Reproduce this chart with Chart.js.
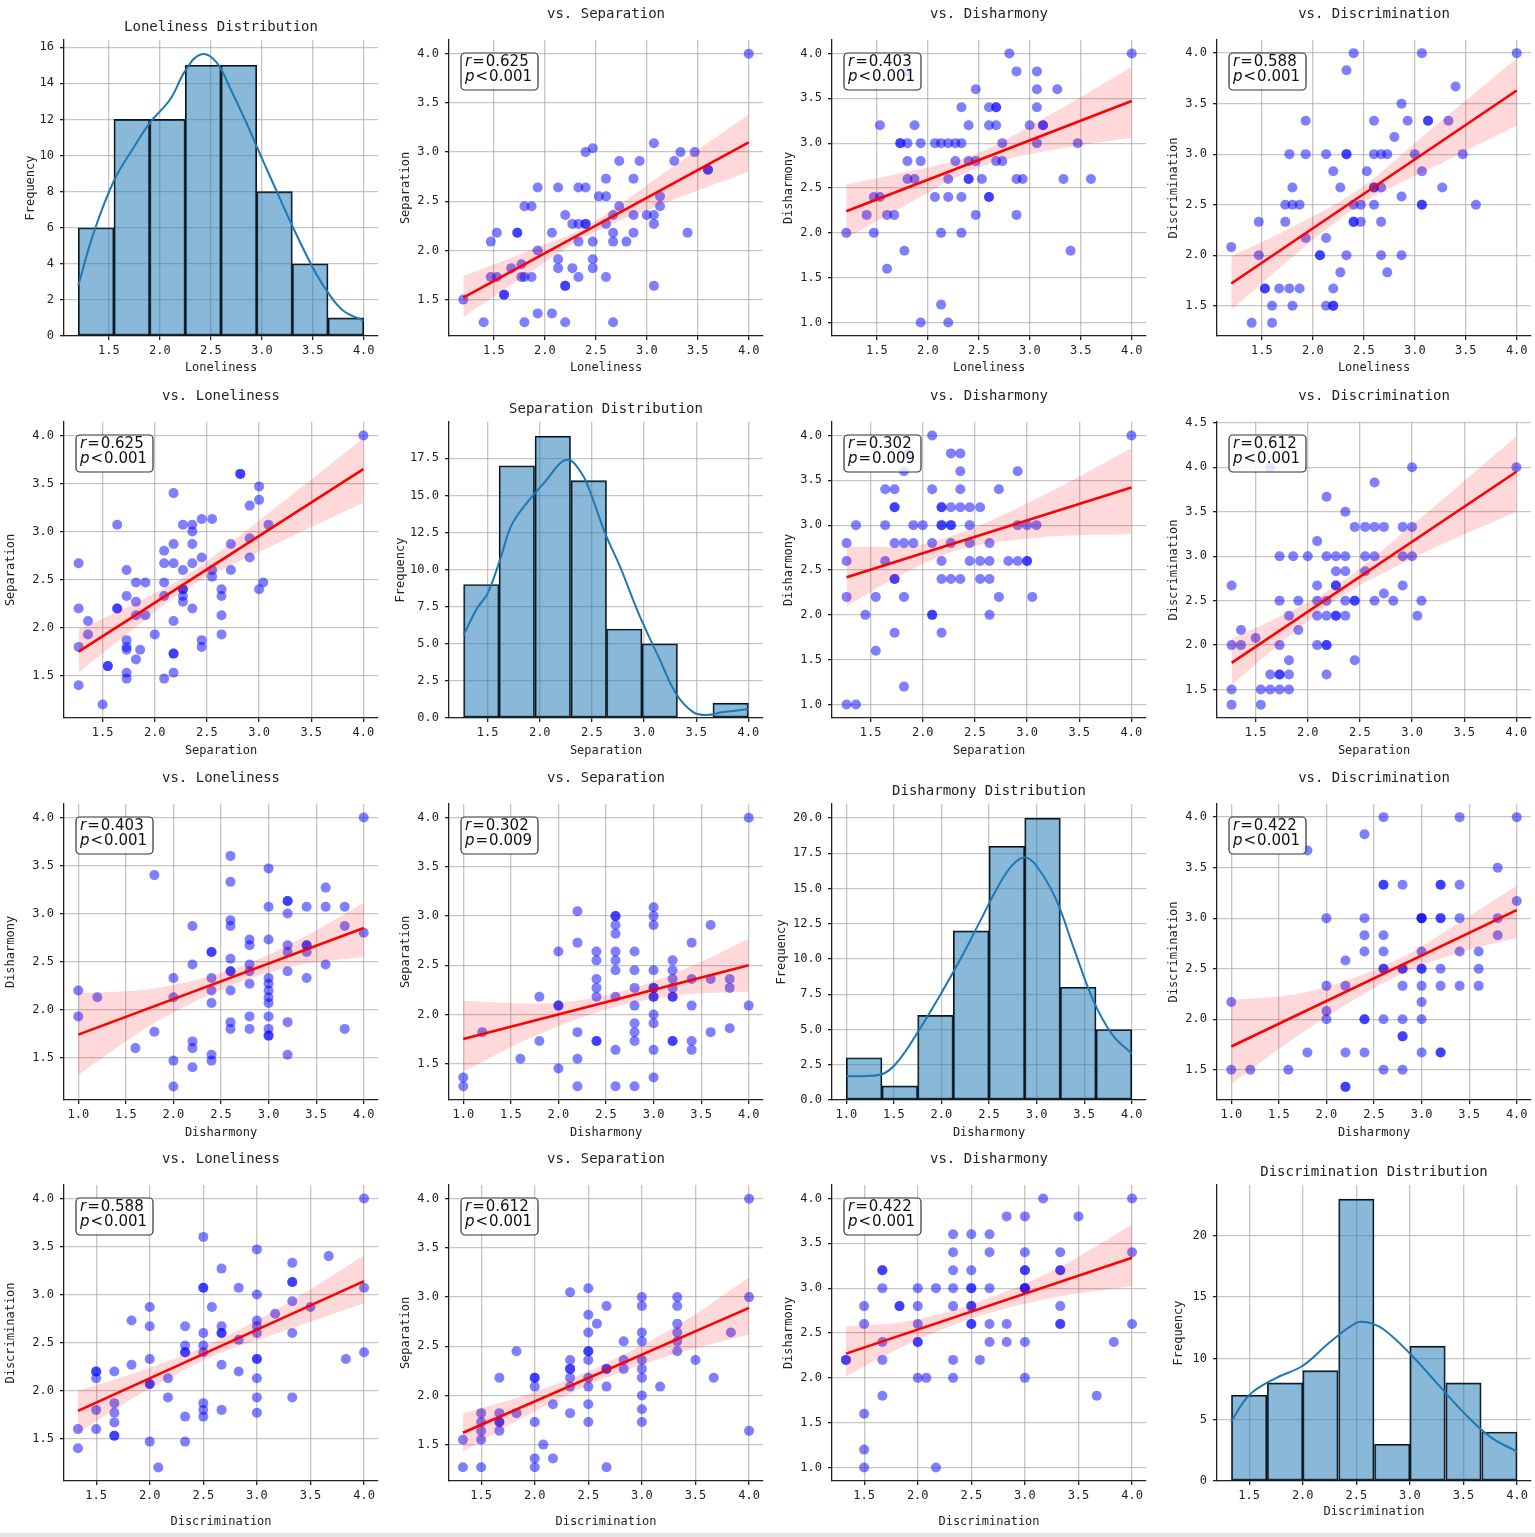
<!DOCTYPE html>
<html lang="en">
<head>
<meta charset="UTF-8">
<title>Pair plot</title>
<script src="https://cdn.jsdelivr.net/npm/chart.js"></script>
<style>
  body { margin: 0; background: #fff; }
  #grid { position: relative; width: 1535px; height: 1537px; overflow: hidden; }
  #grid canvas { position: absolute; }
  #strip { position: absolute; left: 0; top: 1533px; width: 1535px; height: 4px; background: #e6e6e6; }
</style>
</head>
<body>
<div id="grid"><div id="strip"></div></div>
<script>
// ---- histogram bins (edges) and counts ----
var lonEdges = [1.2, 1.55, 1.9, 2.25, 2.6, 2.95, 3.3, 3.65, 4.0];
var lonCounts = [6, 12, 12, 15, 15, 8, 4, 1];
var sepEdges = [1.27, 1.61, 1.95, 2.30, 2.64, 2.98, 3.32, 3.66, 4.0];
var sepCounts = [9, 17, 19, 16, 6, 5, 0, 1];
var disEdges = [1.0, 1.375, 1.75, 2.125, 2.5, 2.875, 3.25, 3.625, 4.0];
var disCounts = [3, 1, 6, 12, 18, 20, 8, 5];
var discEdges = [1.33, 1.67, 2.0, 2.33, 2.67, 3.0, 3.33, 3.67, 4.0];
var discCounts = [7, 8, 9, 23, 3, 11, 8, 4];

// ---- kde curves ----
var lonKde = [[1.2,2.8],[1.35,5.7],[1.55,8.6],[1.75,10.5],[1.9,11.8],[2.1,13.1],[2.25,14.7],[2.4,15.6],[2.55,15.2],[2.7,13.6],[2.85,11.8],[2.95,10.5],[3.1,8.6],[3.3,6.1],[3.5,3.8],[3.65,2.4],[3.8,1.4],[4.0,0.85]];
var sepKde = [[1.27,5.6],[1.4,7.4],[1.5,8.4],[1.63,10.9],[1.73,13.0],[1.9,14.7],[2.06,16.0],[2.2,17.2],[2.28,17.4],[2.35,17.0],[2.44,16.0],[2.63,12.4],[2.77,10.2],[2.95,7.0],[3.14,4.1],[3.31,1.6],[3.47,0.4],[3.6,0.2],[3.76,0.4],[4.0,0.6]];
var disKde = [[1.0,1.7],[1.2,1.7],[1.4,1.9],[1.55,2.8],[1.75,4.8],[2.0,7.6],[2.2,10.0],[2.4,12.6],[2.6,15.2],[2.75,16.7],[2.88,17.2],[3.0,16.6],[3.2,14.3],[3.4,10.6],[3.6,7.0],[3.8,4.6],[4.0,3.3]];
var discKde = [[1.33,4.8],[1.5,7.0],[1.75,8.4],[2.0,9.4],[2.25,11.3],[2.5,12.9],[2.6,12.95],[2.75,12.4],[3.0,10.4],[3.25,8.0],[3.5,5.6],[3.75,3.6],[4.0,2.4]];

// ---- scatter pairs (first value = row variable of the upper panel) ----
var pairsLonSep = [[4.0,4.0],[1.2,1.5],[1.4,1.27],[1.47,2.09],[1.53,2.18],[1.47,1.73],[1.53,1.73],[1.6,1.55],[1.6,1.55],[1.67,1.82],[1.73,2.18],[1.73,2.18],[1.77,1.86],[1.77,1.73],[1.8,1.73],[1.87,1.73],[1.8,2.45],[1.87,2.45],[1.8,1.27],[1.93,2.64],[1.93,2.0],[1.93,1.36],[2.07,2.18],[2.07,1.36],[2.13,2.64],[2.13,1.91],[2.13,1.82],[2.2,2.36],[2.2,1.64],[2.2,1.64],[2.2,1.27],[2.27,1.82],[2.27,2.27],[2.33,2.64],[2.33,2.27],[2.33,2.09],[2.33,1.73],[2.4,2.64],[2.4,3.0],[2.4,2.27],[2.4,2.27],[2.47,3.04],[2.47,2.09],[2.47,1.91],[2.47,1.82],[2.53,2.55],[2.6,2.55],[2.6,2.73],[2.6,2.27],[2.6,1.73],[2.67,2.36],[2.67,2.18],[2.67,2.09],[2.67,1.27],[2.73,2.91],[2.73,2.45],[2.8,2.09],[2.87,2.73],[2.87,2.36],[2.87,2.18],[2.93,2.91],[3.0,2.36],[3.07,3.09],[3.07,2.36],[3.07,2.27],[3.07,1.64],[3.13,2.55],[3.13,2.45],[3.27,2.91],[3.33,3.0],[3.4,2.18],[3.47,3.0],[3.6,2.82],[3.6,2.82]];
var pairsLonDis = [[4.0,4.0],[1.2,2.0],[1.4,2.2],[1.47,2.4],[1.53,2.4],[1.47,2.0],[1.53,3.2],[1.6,2.2],[1.67,2.2],[1.6,1.6],[1.73,3.0],[1.73,3.0],[1.8,3.0],[1.77,1.8],[1.8,2.8],[1.8,2.6],[1.87,2.6],[1.87,3.2],[1.8,3.8],[1.93,3.0],[1.93,2.8],[1.93,1.0],[2.07,3.0],[2.07,2.4],[2.13,3.0],[2.13,2.0],[2.13,1.2],[2.2,3.0],[2.2,2.6],[2.2,2.4],[2.2,1.0],[2.27,3.0],[2.27,2.8],[2.33,3.0],[2.33,3.4],[2.33,2.4],[2.33,2.0],[2.4,3.2],[2.4,2.8],[2.4,2.6],[2.4,2.6],[2.47,3.6],[2.47,2.8],[2.47,2.2],[2.53,2.6],[2.6,3.4],[2.6,3.2],[2.6,2.4],[2.6,2.4],[2.67,3.4],[2.67,3.4],[2.67,3.2],[2.67,2.8],[2.73,3.0],[2.73,2.8],[2.8,4.0],[2.87,3.8],[2.87,2.6],[2.87,2.2],[2.93,2.6],[3.0,3.2],[3.07,3.8],[3.07,3.6],[3.07,3.4],[3.07,3.0],[3.13,3.2],[3.13,3.2],[3.27,3.6],[3.33,2.6],[3.4,1.8],[3.47,3.0],[3.6,2.6]];
var pairsLonDisc = [[4.0,4.0],[1.2,2.08],[1.4,1.33],[1.47,2.33],[1.47,2.0],[1.53,1.67],[1.53,1.67],[1.6,1.5],[1.6,1.33],[1.67,1.67],[1.73,2.5],[1.73,2.33],[1.77,3.0],[1.8,2.67],[1.8,2.5],[1.77,1.67],[1.8,1.5],[1.87,2.5],[1.87,1.67],[1.93,3.33],[1.93,3.0],[1.93,2.17],[2.07,2.0],[2.07,2.0],[2.13,3.0],[2.13,2.17],[2.13,1.5],[2.2,2.83],[2.2,1.67],[2.2,1.5],[2.2,1.5],[2.27,2.67],[2.27,1.83],[2.33,3.83],[2.33,3.0],[2.33,3.0],[2.33,2.0],[2.4,4.0],[2.4,2.5],[2.4,2.33],[2.4,2.33],[2.47,2.5],[2.47,2.33],[2.53,2.83],[2.6,3.33],[2.6,3.0],[2.6,2.67],[2.6,2.67],[2.6,2.5],[2.67,3.0],[2.67,2.67],[2.67,2.33],[2.67,2.0],[2.73,3.0],[2.73,1.83],[2.8,3.17],[2.87,3.5],[2.87,2.58],[2.87,2.0],[2.93,3.33],[3.0,3.0],[3.07,4.0],[3.07,2.83],[3.07,2.5],[3.07,2.5],[3.13,3.33],[3.13,3.33],[3.27,2.67],[3.33,3.33],[3.4,3.67],[3.47,3.0],[3.6,2.5]];
var pairsSepDis = [[4.0,4.0],[1.27,2.8],[1.27,2.6],[1.27,2.2],[1.27,1.0],[1.36,3.0],[1.36,1.0],[1.45,2.0],[1.55,2.2],[1.55,1.6],[1.64,3.4],[1.64,3.0],[1.64,2.6],[1.73,3.4],[1.73,3.2],[1.73,3.2],[1.73,2.8],[1.73,2.4],[1.73,2.4],[1.73,1.8],[1.82,3.6],[1.82,2.8],[1.82,2.2],[1.82,1.2],[1.86,3.8],[1.91,3.0],[1.91,2.8],[2.0,3.0],[2.09,4.0],[2.09,3.4],[2.09,2.8],[2.09,2.0],[2.09,2.0],[2.18,3.2],[2.18,3.2],[2.18,3.0],[2.18,3.0],[2.18,2.6],[2.18,2.4],[2.18,1.8],[2.27,3.8],[2.27,3.2],[2.27,3.0],[2.27,3.0],[2.27,2.8],[2.27,2.4],[2.36,3.8],[2.36,3.6],[2.36,3.4],[2.36,3.2],[2.36,2.4],[2.45,3.2],[2.45,3.0],[2.45,2.8],[2.45,2.6],[2.55,3.2],[2.55,2.6],[2.55,2.4],[2.64,2.8],[2.64,2.6],[2.64,2.4],[2.64,2.0],[2.73,3.4],[2.73,2.2],[2.82,2.6],[2.91,3.6],[2.91,3.0],[2.91,2.6],[3.0,3.0],[3.0,2.6],[3.0,2.6],[3.05,2.2],[3.09,3.0]];
var pairsSepDisc = [[4.0,4.0],[1.27,2.67],[1.27,2.0],[1.27,1.5],[1.27,1.33],[1.36,2.17],[1.36,2.0],[1.5,2.08],[1.55,1.5],[1.55,1.33],[1.64,4.0],[1.64,1.67],[1.64,1.5],[1.73,3.0],[1.73,2.5],[1.73,2.0],[1.73,1.67],[1.73,1.67],[1.73,1.5],[1.82,2.33],[1.82,1.83],[1.82,1.67],[1.82,1.5],[1.86,3.0],[1.91,2.5],[1.91,2.17],[2.0,3.0],[2.09,3.17],[2.09,2.67],[2.09,2.5],[2.09,2.33],[2.09,2.0],[2.18,3.67],[2.18,3.0],[2.18,2.5],[2.18,2.33],[2.18,2.0],[2.18,2.0],[2.18,1.67],[2.27,3.0],[2.27,2.83],[2.27,2.67],[2.27,2.67],[2.27,2.33],[2.27,2.33],[2.36,3.5],[2.36,3.0],[2.36,2.83],[2.36,2.5],[2.36,2.33],[2.45,3.33],[2.45,2.5],[2.45,2.5],[2.45,1.83],[2.55,3.33],[2.55,3.0],[2.55,2.83],[2.64,3.83],[2.64,3.33],[2.64,3.0],[2.64,2.5],[2.73,3.33],[2.73,2.58],[2.82,2.5],[2.91,3.33],[2.91,3.0],[2.91,2.67],[3.0,4.0],[3.0,3.33],[3.0,3.0],[3.05,2.33],[3.09,2.5]];
var pairsDisDisc = [[1.0,2.17],[1.0,1.5],[1.2,1.5],[1.6,1.5],[1.8,1.67],[1.8,3.67],[2.0,3.0],[2.0,2.33],[2.0,2.08],[2.0,2.0],[2.2,2.58],[2.2,2.33],[2.2,1.67],[2.2,1.33],[2.2,1.33],[2.4,3.83],[2.4,3.0],[2.4,2.83],[2.4,2.67],[2.4,2.0],[2.4,2.0],[2.4,1.67],[2.6,4.0],[2.6,3.33],[2.6,3.33],[2.6,2.83],[2.6,2.67],[2.6,2.5],[2.6,2.5],[2.6,2.0],[2.6,1.5],[2.8,3.33],[2.8,2.5],[2.8,2.5],[2.8,2.33],[2.8,2.0],[2.8,1.83],[2.8,1.83],[2.8,1.5],[3.0,3.0],[3.0,3.0],[3.0,3.0],[3.0,2.67],[3.0,2.5],[3.0,2.5],[3.0,2.33],[3.0,2.17],[3.0,2.0],[3.0,1.67],[3.2,3.33],[3.2,3.33],[3.2,3.0],[3.2,3.0],[3.2,2.5],[3.2,2.33],[3.2,1.67],[3.2,1.67],[3.4,4.0],[3.4,3.33],[3.4,3.0],[3.4,2.67],[3.4,2.33],[3.6,2.67],[3.6,2.5],[3.6,2.33],[3.8,3.5],[3.8,3.0],[3.8,2.83],[4.0,4.0],[4.0,3.17]];

// ---- fitted lines [x, y] and confidence bands [x, low, high] ----
var lineLonSep = [[1.2,1.52],[4.0,3.10]];
var bandLonSep = [[1.2,1.32,1.74],[1.8,1.74,1.98],[2.4,2.14,2.24],[3.2,2.49,2.81],[4.0,2.80,3.38]];
var lineLonDis = [[1.2,2.24],[4.0,3.47]];
var bandLonDis = [[1.2,1.94,2.54],[1.8,2.32,2.68],[2.45,2.71,2.87],[3.2,2.92,3.32],[4.0,3.06,3.85]];
var lineLonDisc = [[1.2,1.72],[4.0,3.63]];
var bandLonDisc = [[1.2,1.46,1.99],[1.8,1.98,2.28],[2.45,2.49,2.65],[3.2,2.88,3.28],[4.0,3.28,3.95]];
var lineSepLon = [[1.27,1.75],[4.0,3.65]];
var bandSepLon = [[1.27,1.53,1.98],[1.8,1.99,2.25],[2.3,2.40,2.54],[3.1,2.84,3.20],[4.0,3.30,3.97]];
var lineSepDis = [[1.27,2.42],[4.0,3.42]];
var bandSepDis = [[1.27,2.10,2.76],[1.8,2.45,2.76],[2.3,2.71,2.89],[3.1,2.86,3.30],[4.0,2.90,3.86]];
var lineSepDisc = [[1.27,1.80],[4.0,3.95]];
var bandSepDisc = [[1.27,1.55,2.07],[1.8,2.08,2.36],[2.3,2.53,2.69],[3.1,3.03,3.45],[4.0,3.50,4.35]];
var lineDisLon = [[1.0,1.74],[4.0,2.85]];
var bandDisLon = [[1.0,1.32,2.17],[1.8,1.86,2.22],[2.65,2.27,2.43],[3.3,2.46,2.72],[4.0,2.55,3.11]];
var lineDisSep = [[1.0,1.75],[4.0,2.50]];
var bandDisSep = [[1.0,1.42,2.14],[1.8,1.80,2.11],[2.65,2.09,2.23],[3.3,2.20,2.45],[4.0,2.23,2.77]];
var lineDisDisc = [[1.0,1.73],[4.0,3.08]];
var bandDisDisc = [[1.0,1.36,2.19],[1.8,1.90,2.27],[2.75,2.43,2.59],[3.4,2.66,2.96],[4.0,2.80,3.32]];
var lineDiscLon = [[1.33,1.79],[4.0,3.14]];
var bandDiscLon = [[1.33,1.56,2.0],[1.9,1.96,2.2],[2.55,2.34,2.48],[3.3,2.64,2.92],[4.0,2.91,3.41]];
var lineDiscSep = [[1.33,1.62],[4.0,2.89]];
var bandDiscSep = [[1.33,1.43,1.82],[1.9,1.78,2.0],[2.55,2.13,2.27],[3.3,2.42,2.69],[4.0,2.62,3.20]];
var lineDiscDis = [[1.33,2.27],[4.0,3.34]];
var bandDiscDis = [[1.33,2.02,2.57],[1.9,2.37,2.63],[2.55,2.68,2.84],[3.3,2.90,3.22],[4.0,3.02,3.71]];

// ---- correlation labels ----
var statLonSep = ['0.625', '<', '0.001'];
var statLonDis = ['0.403', '<', '0.001'];
var statLonDisc = ['0.588', '<', '0.001'];
var statSepDis = ['0.302', '=', '0.009'];
var statSepDisc = ['0.612', '<', '0.001'];
var statDisDisc = ['0.422', '<', '0.001'];

// ---- axis ranges and ticks ----
var rangeLon = [1.06, 4.14];
var rangeSep = [1.13, 4.14];
var rangeDis = [0.85, 4.15];
var rangeDisc = [1.2, 4.13];
var rangeDiscWide = [1.18, 4.51];
var ticksHalf = [1.5, 2.0, 2.5, 3.0, 3.5, 4.0];
var ticksDis = [1.0, 1.5, 2.0, 2.5, 3.0, 3.5, 4.0];
var ticksWide = [1.5, 2.0, 2.5, 3.0, 3.5, 4.0, 4.5];
var freqLon = [0, 2, 4, 6, 8, 10, 12, 14, 16];
var freqSep = [0, 2.5, 5, 7.5, 10, 12.5, 15, 17.5];
var freqDis = [0, 2.5, 5, 7.5, 10, 12.5, 15, 17.5, 20];
var freqDisc = [0, 5, 10, 15, 20];

// plot-area positions on the page
var plotLefts = [64, 449, 832, 1217];
var plotTops = [40, 422, 804, 1185];
var PLOT_W = 314, PLOT_H = 296, Y_W = 62, X_H = 50, TOP_H = 40, PAD_R = 14;
var yTitlePad = [[21.8, 11.8, 11.8, 11.8], [1.8, 6.8, 11.8, 11.8], [1.8, 11.8, 4.8, 11.8], [1.8, 11.8, 11.8, 16.8]];
var xTitlePad = [[10.8, 10.8, 10.8, 10.8], [9.8, 9.8, 9.8, 9.8], [9.8, 9.8, 9.8, 9.8], [2.1, 2.1, 2.1, 11.8]];

var panels = [
  {kind: 'hist', title: 'Loneliness Distribution', xl: 'Loneliness', yl: 'Frequency', edges: lonEdges, counts: lonCounts, kde: lonKde, xr: rangeLon, xt: ticksHalf, yr: [0, 16.4], yt: freqLon, yd: 0},
  {kind: 'sc', title: 'vs. Separation', xl: 'Loneliness', yl: 'Separation', pts: pairsLonSep, flip: false, line: lineLonSep, band: bandLonSep, stat: statLonSep, xr: rangeLon, xt: ticksHalf, yr: rangeSep, yt: ticksHalf},
  {kind: 'sc', title: 'vs. Disharmony', xl: 'Loneliness', yl: 'Disharmony', pts: pairsLonDis, flip: false, line: lineLonDis, band: bandLonDis, stat: statLonDis, xr: rangeLon, xt: ticksHalf, yr: rangeDis, yt: ticksDis},
  {kind: 'sc', title: 'vs. Discrimination', xl: 'Loneliness', yl: 'Discrimination', pts: pairsLonDisc, flip: false, line: lineLonDisc, band: bandLonDisc, stat: statLonDisc, xr: rangeLon, xt: ticksHalf, yr: rangeDisc, yt: ticksHalf},

  {kind: 'sc', title: 'vs. Loneliness', xl: 'Separation', yl: 'Separation', pts: pairsLonSep, flip: true, line: lineSepLon, band: bandSepLon, stat: statLonSep, xr: rangeSep, xt: ticksHalf, yr: rangeLon, yt: ticksHalf},
  {kind: 'hist', title: 'Separation Distribution', xl: 'Separation', yl: 'Frequency', edges: sepEdges, counts: sepCounts, kde: sepKde, xr: rangeSep, xt: ticksHalf, yr: [0, 19.95], yt: freqSep, yd: 1},
  {kind: 'sc', title: 'vs. Disharmony', xl: 'Separation', yl: 'Disharmony', pts: pairsSepDis, flip: false, line: lineSepDis, band: bandSepDis, stat: statSepDis, xr: rangeSep, xt: ticksHalf, yr: rangeDis, yt: ticksDis},
  {kind: 'sc', title: 'vs. Discrimination', xl: 'Separation', yl: 'Discrimination', pts: pairsSepDisc, flip: false, line: lineSepDisc, band: bandSepDisc, stat: statSepDisc, xr: rangeSep, xt: ticksHalf, yr: rangeDiscWide, yt: ticksWide},

  {kind: 'sc', title: 'vs. Loneliness', xl: 'Disharmony', yl: 'Disharmony', pts: pairsLonDis, flip: true, line: lineDisLon, band: bandDisLon, stat: statLonDis, xr: rangeDis, xt: ticksDis, yr: rangeLon, yt: ticksHalf},
  {kind: 'sc', title: 'vs. Separation', xl: 'Disharmony', yl: 'Separation', pts: pairsSepDis, flip: true, line: lineDisSep, band: bandDisSep, stat: statSepDis, xr: rangeDis, xt: ticksDis, yr: rangeSep, yt: ticksHalf},
  {kind: 'hist', title: 'Disharmony Distribution', xl: 'Disharmony', yl: 'Frequency', edges: disEdges, counts: disCounts, kde: disKde, xr: rangeDis, xt: ticksDis, yr: [0, 21], yt: freqDis, yd: 1},
  {kind: 'sc', title: 'vs. Discrimination', xl: 'Disharmony', yl: 'Discrimination', pts: pairsDisDisc, flip: false, line: lineDisDisc, band: bandDisDisc, stat: statDisDisc, xr: rangeDis, xt: ticksDis, yr: rangeDisc, yt: ticksHalf},

  {kind: 'sc', title: 'vs. Loneliness', xl: 'Discrimination', yl: 'Discrimination', pts: pairsLonDisc, flip: true, line: lineDiscLon, band: bandDiscLon, stat: statLonDisc, xr: rangeDisc, xt: ticksHalf, yr: rangeLon, yt: ticksHalf},
  {kind: 'sc', title: 'vs. Separation', xl: 'Discrimination', yl: 'Separation', pts: pairsSepDisc, flip: true, line: lineDiscSep, band: bandDiscSep, stat: statSepDisc, xr: rangeDisc, xt: ticksHalf, yr: rangeSep, yt: ticksHalf},
  {kind: 'sc', title: 'vs. Disharmony', xl: 'Discrimination', yl: 'Disharmony', pts: pairsDisDisc, flip: true, line: lineDiscDis, band: bandDiscDis, stat: statDisDisc, xr: rangeDisc, xt: ticksHalf, yr: rangeDis, yt: ticksDis},
  {kind: 'hist', title: 'Discrimination Distribution', xl: 'Discrimination', yl: 'Frequency', edges: discEdges, counts: discCounts, kde: discKde, xr: rangeDisc, xt: ticksHalf, yr: [0, 24.15], yt: freqDisc, yd: 0}
];

Chart.defaults.font.family = '"DejaVu Sans Mono", monospace';
Chart.defaults.color = '#222';

// panel title, centred over the plot area
var panelTitle = {
  id: 'panelTitle',
  afterDraw: function (chart, args, opts) {
    if (!opts || !opts.text) return;
    var ctx = chart.ctx, a = chart.chartArea;
    ctx.save();
    ctx.font = '14px "DejaVu Sans Mono", monospace';
    ctx.fillStyle = '#222';
    ctx.textAlign = 'center';
    ctx.textBaseline = 'middle';
    ctx.fillText(opts.text, (a.left + a.right) / 2, a.top - opts.gap);
    ctx.restore();
  }
};

// r / p box in the top-left corner of each scatter
function drawStat(ctx, x, y, sym, rel, val) {
  ctx.font = 'italic 15px "DejaVu Sans"';
  ctx.fillText(sym, x, y);
  x += ctx.measureText(sym).width + 1;
  ctx.font = '15px "DejaVu Sans"';
  ctx.fillText(rel, x, y);
  x += ctx.measureText(rel).width + 1;
  ctx.fillText(val, x, y);
}
var statBox = {
  id: 'statBox',
  afterDatasetsDraw: function (chart, args, opts) {
    if (!opts || !opts.r) return;
    var ctx = chart.ctx, a = chart.chartArea;
    var x = a.left + 12, y = a.top + 13;
    ctx.save();
    ctx.beginPath();
    ctx.roundRect(x, y, 77, 37, 4);
    ctx.fillStyle = 'rgba(255,255,255,0.8)';
    ctx.fill();
    ctx.lineWidth = 1.2;
    ctx.strokeStyle = '#333';
    ctx.stroke();
    ctx.fillStyle = '#111';
    ctx.textBaseline = 'middle';
    drawStat(ctx, x + 4, y + 9.5, 'r', '=', opts.r);
    drawStat(ctx, x + 4, y + 24.5, 'p', opts.rel, opts.p);
    ctx.restore();
  }
};

function axis(range, ticks, dec, label, titlePad, isX) {
  return {
    type: 'linear', min: range[0], max: range[1], offset: false,
    afterBuildTicks: function (s) { s.ticks = ticks.map(function (v) { return {value: v}; }); },
    afterFit: function (s) { if (isX) s.height = X_H; else s.width = Y_W; },
    ticks: {
      autoSkip: false, maxRotation: 0, padding: isX ? 4 : 6, font: {size: 12}, color: '#222',
      callback: function (v) { return Number(v).toFixed(dec); }
    },
    grid: {color: 'rgba(160,160,160,0.6)', lineWidth: 1.3, tickColor: '#222', tickLength: 4, offset: false},
    border: {display: true, color: '#222', width: 1.3},
    title: {display: true, text: label, font: {size: 12}, color: '#222',
      padding: isX ? {top: 0, bottom: titlePad} : {top: titlePad, bottom: 0}}
  };
}

function xy(d) { return {x: d[0], y: d[1]}; }

function build(p, r, c) {
  var hist = p.kind === 'hist';
  var options = {
    responsive: false, animation: false,
    layout: {padding: {left: 0, top: TOP_H, right: PAD_R, bottom: 0}},
    plugins: {
      legend: {display: false}, tooltip: {enabled: false}, title: {display: false},
      panelTitle: {text: p.title, gap: hist ? 13 : 26},
      statBox: hist ? {} : {r: p.stat[0], rel: p.stat[1], p: p.stat[2]}
    },
    scales: {
      x: axis(p.xr, p.xt, 1, p.xl, xTitlePad[r][c], true),
      y: axis(p.yr, p.yt, hist ? p.yd : 1, p.yl, yTitlePad[r][c], false)
    }
  };
  if (hist) {
    var bars = p.counts.map(function (n, i) { return {x: (p.edges[i] + p.edges[i + 1]) / 2, y: n}; });
    return {
      type: 'bar',
      data: {datasets: [
        {type: 'line', data: p.kde.map(xy), borderColor: '#1f77b4', borderWidth: 2, pointRadius: 0, tension: 0.4, fill: false},
        {type: 'bar', data: bars, backgroundColor: 'rgba(31,119,180,0.52)', borderColor: '#111', borderWidth: 1.2,
          borderSkipped: false, barPercentage: 1, categoryPercentage: 1}
      ]},
      options: options,
      plugins: [statBox, panelTitle]
    };
  }
  var pts = p.pts.map(function (d) { return p.flip ? {x: d[1], y: d[0]} : {x: d[0], y: d[1]}; });
  return {
    type: 'scatter',
    data: {datasets: [
      {data: p.line.map(xy), showLine: true, borderColor: 'red', borderWidth: 2.6, pointRadius: 0},
      {data: p.band.map(function (b) { return {x: b[0], y: b[1]}; }), showLine: true, borderWidth: 0,
        borderColor: 'rgba(0,0,0,0)', pointRadius: 0, cubicInterpolationMode: 'monotone'},
      {data: p.band.map(function (b) { return {x: b[0], y: b[2]}; }), showLine: true, borderWidth: 0,
        borderColor: 'rgba(0,0,0,0)', pointRadius: 0, cubicInterpolationMode: 'monotone',
        fill: 1, backgroundColor: 'rgba(255,0,0,0.15)'},
      {data: pts, backgroundColor: 'rgba(0,0,255,0.5)', borderWidth: 0, pointRadius: 5}
    ]},
    options: options,
    plugins: [statBox, panelTitle]
  };
}

var grid = document.getElementById('grid');
panels.forEach(function (p, i) {
  var r = Math.floor(i / 4), c = i % 4;
  var cv = document.createElement('canvas');
  cv.width = Y_W + PLOT_W + PAD_R;
  cv.height = TOP_H + PLOT_H + X_H;
  cv.style.left = (plotLefts[c] - Y_W) + 'px';
  cv.style.top = (plotTops[r] - TOP_H) + 'px';
  grid.appendChild(cv);
  new Chart(cv.getContext('2d'), build(p, r, c));
});
</script>
</body>
</html>
